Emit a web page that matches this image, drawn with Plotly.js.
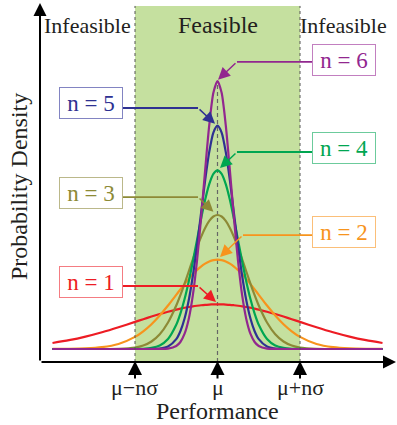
<!DOCTYPE html>
<html><head><meta charset="utf-8">
<script src="https://cdn.plot.ly/plotly-3.0.1.min.js"></script>
<style>html,body{margin:0;padding:0;background:#fff}#chart{width:397px;height:425px}</style>
</head><body><div id="chart"></div>
<script>
// Performance axis in units of n*sigma (mu = 0, feasible bounds = +/-1)
const xs = [-2,-1.8,-1.6,-1.4,-1.2,-1,-0.9,-0.8,-0.7,-0.6,-0.5,-0.45,-0.4,-0.35,-0.3,-0.25,-0.2,-0.15,-0.1,-0.05,0,0.05,0.1,0.15,0.2,0.25,0.3,0.35,0.4,0.45,0.5,0.6,0.7,0.8,0.9,1,1.2,1.4,1.6,1.8,2];
// Probability density (arbitrary units)
const n1 = [0.135,0.198,0.278,0.375,0.487,0.607,0.667,0.726,0.783,0.835,0.882,0.904,0.923,0.941,0.956,0.969,0.980,0.989,0.995,0.999,1,0.999,0.995,0.989,0.980,0.969,0.956,0.941,0.923,0.904,0.882,0.835,0.783,0.726,0.667,0.607,0.487,0.375,0.278,0.198,0.135];
const n2 = [0.001,0.003,0.012,0.040,0.112,0.271,0.396,0.556,0.751,0.973,1.213,1.334,1.452,1.565,1.671,1.765,1.846,1.912,1.960,1.990,2,1.990,1.960,1.912,1.846,1.765,1.671,1.565,1.452,1.334,1.213,0.973,0.751,0.556,0.396,0.271,0.112,0.040,0.012,0.003,0.001];
const n3 = [0,0,0,0,0.005,0.033,0.078,0.168,0.331,0.594,0.974,1.206,1.460,1.729,2.001,2.265,2.506,2.711,2.868,2.966,3,2.966,2.868,2.711,2.506,2.265,2.001,1.729,1.460,1.206,0.974,0.594,0.331,0.168,0.078,0.033,0.005,0,0,0,0];
const n4 = [0,0,0,0,0,0.001,0.006,0.024,0.079,0.224,0.541,0.792,1.112,1.501,1.947,2.426,2.904,3.341,3.692,3.921,4,3.921,3.692,3.341,2.904,2.426,1.947,1.501,1.112,0.792,0.541,0.224,0.079,0.024,0.006,0.001,0,0,0,0,0];
const n5 = [0,0,0,0,0,0,0,0.002,0.011,0.056,0.220,0.398,0.677,1.081,1.623,2.289,3.033,3.774,4.412,4.846,5,4.846,4.412,3.774,3.033,2.289,1.623,1.081,0.677,0.398,0.220,0.056,0.011,0.002,0,0,0,0,0,0,0];
const n6 = [0,0,0,0,0,0,0,0,0.001,0.009,0.067,0.157,0.337,0.661,1.188,1.948,2.921,4.002,5.012,5.736,6,5.736,5.012,4.002,2.921,1.948,1.188,0.661,0.337,0.157,0.067,0.009,0.001,0,0,0,0,0,0,0,0];
const seriesNames = ["n = 1","n = 2","n = 3","n = 4","n = 5","n = 6"];
const tickLabels = ["μ−nσ","μ","μ+nσ"];
const tickPos = [-1,0,1];
const regionLabels = ["Infeasible","Feasible","Infeasible"];

const series = [n1,n2,n3,n4,n5,n6];
const colors = ["#ed1c24","#f7941d","#8d8a36","#00a651","#2e3192","#92278f"];
const borders = ["#f47c82","#fbbf79","#bbb88a","#6ccb9c","#8284c2","#c27fc0"];
// label box centre, bend point, arrow tip (data coords)
const boxes = [
  {bx:-1.539,by:1.50, ex:-1.158, hy:1.41, kx:-0.236, tx:-0.018, ty:1.05},
  {bx:1.539, by:2.63, ex:1.158,  hy:2.55, kx:0.309,  tx:0.03,  ty:2.06},
  {bx:-1.539,by:3.49, ex:-1.158, hy:3.40, kx:-0.236, tx:-0.05, ty:3.07},
  {bx:1.539, by:4.49, ex:1.158,  hy:4.41, kx:0.236,  tx:0.03,  ty:4.05},
  {bx:-1.539,by:5.50, ex:-1.158, hy:5.395,kx:-0.236, tx:-0.03, ty:5.04},
  {bx:1.539, by:6.47, ex:1.158,  hy:6.43, kx:0.236,  tx:0.006, ty:6.03}
];

const YMIN = -0.291, YMAX = 7.746, XMIN = -2.1515, XMAX = 2.1636, TOP = 7.68;
const serif = "Liberation Serif, Times New Roman, serif";
const ink = "#231f20";
const toPaperX = v => (v - XMIN) / (XMAX - XMIN);

const traces = series.map((ys,i)=>({
  x: xs, y: ys, type:"scatter", mode:"lines",
  line:{color:colors[i], width:2.2, shape:"spline", smoothing:0.7},
  hoverinfo:"skip", showlegend:false
}));

const shapes = [
  {type:"rect", layer:"below", xref:"x", yref:"y", x0:-1, x1:1, y0:YMIN, y1:TOP, fillcolor:"#c5e09f", line:{width:0}},
  {type:"line", xref:"x", yref:"y", x0:-1, x1:-1, y0:YMIN, y1:TOP, line:{color:"#555", width:1, dash:"3px,3px"}},
  {type:"line", xref:"x", yref:"y", x0:1, x1:1, y0:YMIN, y1:TOP, line:{color:"#555", width:1, dash:"3px,3px"}},
  {type:"line", layer:"below", xref:"x", yref:"y", x0:0, x1:0, y0:YMIN, y1:6, line:{color:"#666", width:1.2, dash:"4px,3px"}}
];
boxes.forEach((b,i)=>{
  shapes.push({type:"line", xref:"x", yref:"y", x0:b.ex, x1:b.kx, y0:b.hy, y1:b.hy, line:{color:colors[i], width:1.8}});
});

const annotations = [];
// axes arrows
annotations.push({x:XMIN, y:YMAX, ax:XMIN, ay:YMIN, xref:"x", yref:"y", axref:"x", ayref:"y", text:"", showarrow:true, arrowhead:2, arrowsize:1.3, arrowwidth:2, arrowcolor:"#000"});
annotations.push({x:XMAX, y:YMIN, ax:XMIN, ay:YMIN, xref:"x", yref:"y", axref:"x", ayref:"y", text:"", showarrow:true, arrowhead:2, arrowsize:1.3, arrowwidth:2, arrowcolor:"#000"});
// tick arrows and labels
tickPos.forEach((p,i)=>{
  annotations.push({x:p, y:-0.27, ax:p, ay:-0.694, xref:"x", yref:"y", axref:"x", ayref:"y", text:"", showarrow:true, arrowhead:2, arrowsize:1.4, arrowwidth:2, arrowcolor:"#000"});
  annotations.push({x:toPaperX(p), y:-0.0724, xref:"paper", yref:"paper", xanchor:"center", yanchor:"middle", text:tickLabels[i], showarrow:false, font:{family:serif, size:22, color:ink}});
});
annotations.push({x:toPaperX(0), y:-0.137, xref:"paper", yref:"paper", xanchor:"center", yanchor:"middle", text:"Performance", showarrow:false, font:{family:serif, size:24, color:ink}});
annotations.push({x:-0.059, y:0.49, xref:"paper", yref:"paper", xanchor:"center", yanchor:"middle", text:"Probability Density", textangle:-90, showarrow:false, font:{family:serif, size:24, color:ink}});
// region labels
annotations.push({x:-1.57, y:7.25, xref:"x", yref:"y", text:regionLabels[0], showarrow:false, font:{family:serif, size:22, color:ink}});
annotations.push({x:0, y:7.25, xref:"x", yref:"y", text:regionLabels[1], showarrow:false, font:{family:serif, size:24, color:ink}});
annotations.push({x:1.533, y:7.25, xref:"x", yref:"y", text:regionLabels[2], showarrow:false, font:{family:serif, size:22, color:ink}});
// series label boxes + arrows
boxes.forEach((b,i)=>{
  annotations.push({x:b.bx, y:b.by, xref:"x", yref:"y", text:seriesNames[i], showarrow:false,
    font:{family:serif, size:23, color:colors[i]}, bgcolor:"#fff", bordercolor:borders[i], borderwidth:1, borderpad:1, width:60, height:28});
  annotations.push({x:b.tx, y:b.ty, ax:b.kx, ay:b.hy, xref:"x", yref:"y", axref:"x", ayref:"y", text:"", showarrow:true,
    arrowhead:2, arrowsize:1.6, arrowwidth:1.5, arrowcolor:colors[i]});
});

const layout = {
  width:397, height:425,
  margin:{l:40, r:1, t:3, b:63},
  paper_bgcolor:"#fff", plot_bgcolor:"rgba(0,0,0,0)",
  xaxis:{range:[XMIN,XMAX], visible:false, fixedrange:true},
  yaxis:{range:[YMIN,YMAX], visible:false, fixedrange:true},
  shapes: shapes, annotations: annotations, showlegend:false
};
Plotly.newPlot("chart", traces, layout, {staticPlot:true, displayModeBar:false});
</script></body></html>
